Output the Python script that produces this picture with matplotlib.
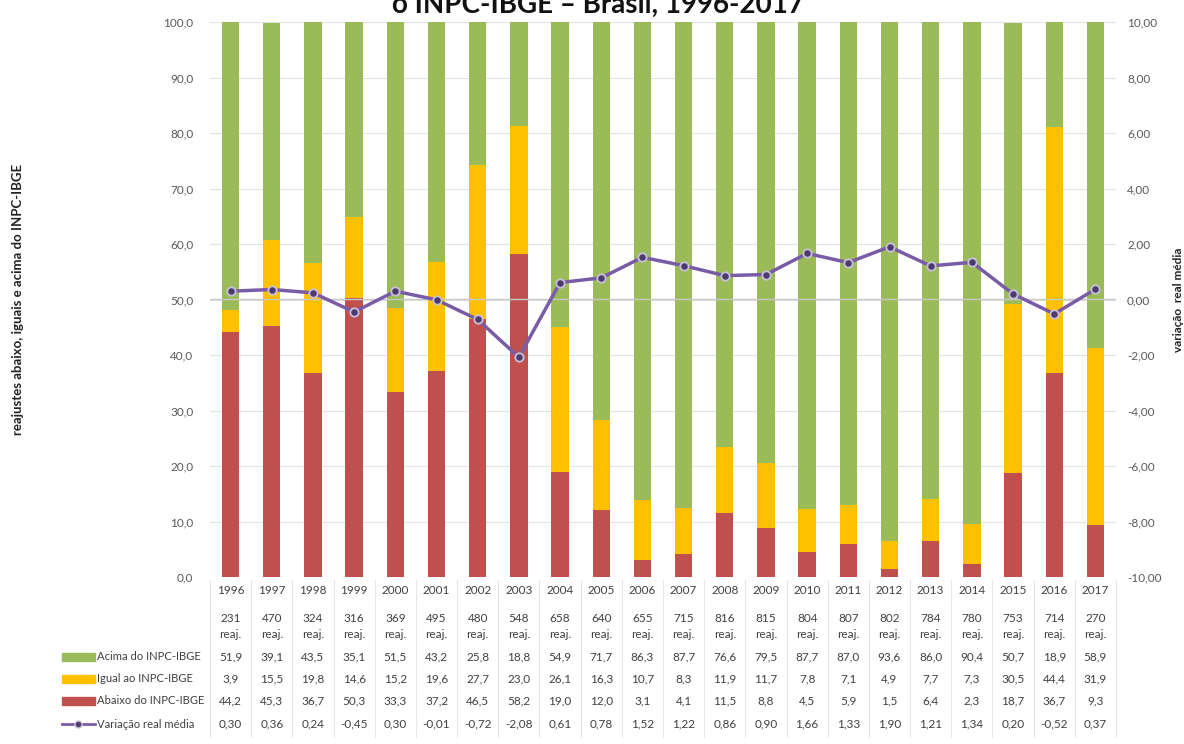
import matplotlib.pyplot as plt
from matplotlib.patches import Rectangle
from matplotlib.lines import Line2D
from matplotlib.transforms import blended_transform_factory

plt.rcParams['font.family'] = ['Lato', 'DejaVu Sans']

# dados da tabela
anos = [1996, 1997, 1998, 1999, 2000, 2001, 2002, 2003, 2004, 2005, 2006,
        2007, 2008, 2009, 2010, 2011, 2012, 2013, 2014, 2015, 2016, 2017]
reajustes = [231, 470, 324, 316, 369, 495, 480, 548, 658, 640, 655,
             715, 816, 815, 804, 807, 802, 784, 780, 753, 714, 270]
acima = [51.9, 39.1, 43.5, 35.1, 51.5, 43.2, 25.8, 18.8, 54.9, 71.7, 86.3,
         87.7, 76.6, 79.5, 87.7, 87.0, 93.6, 86.0, 90.4, 50.7, 18.9, 58.9]
igual = [3.9, 15.5, 19.8, 14.6, 15.2, 19.6, 27.7, 23.0, 26.1, 16.3, 10.7,
         8.3, 11.9, 11.7, 7.8, 7.1, 4.9, 7.7, 7.3, 30.5, 44.4, 31.9]
abaixo = [44.2, 45.3, 36.7, 50.3, 33.3, 37.2, 46.5, 58.2, 19.0, 12.0, 3.1,
          4.1, 11.5, 8.8, 4.5, 5.9, 1.5, 6.4, 2.3, 18.7, 36.7, 9.3]
variacao = [0.30, 0.36, 0.24, -0.45, 0.30, -0.01, -0.72, -2.08, 0.61, 0.78, 1.52,
            1.22, 0.86, 0.90, 1.66, 1.33, 1.90, 1.21, 1.34, 0.20, -0.52, 0.37]

verde = '#9BBB59'
amarelo = '#FFC000'
vermelho = '#C0504D'
roxo = '#7A5CA6'
cinza = '#595959'

W, H = 1184, 744


def fy(py):
    return 1 - py / H


fig = plt.figure(figsize=(W / 100, H / 100), dpi=100)
ax = fig.add_axes([210 / W, fy(577), (1116 - 210) / W, (577 - 22) / H])

x = list(range(len(anos)))
base2 = [a + b for a, b in zip(abaixo, igual)]
ax.bar(x, abaixo, width=0.42, color=vermelho, zorder=2)
ax.bar(x, igual, width=0.42, bottom=abaixo, color=amarelo, zorder=2)
ax.bar(x, acima, width=0.42, bottom=base2, color=verde, zorder=2)

ax.set_xlim(-0.5, len(anos) - 0.5)
ax.set_ylim(0, 100)
ax.set_yticks(range(0, 101, 10))
ax.set_yticklabels([f'{v:.1f}'.replace('.', ',') for v in range(0, 101, 10)],
                   fontsize=8.5, color=cinza)
ax.set_xticks([])
ax.tick_params(axis='y', length=0, pad=12)
ax.grid(axis='y', color='#E3E3E3', lw=0.8, zorder=0)
for s in ax.spines.values():
    s.set_visible(False)

ax2 = ax.twinx()
ax2.set_ylim(-10, 10)
ax2.set_yticks(range(-10, 11, 2))
ax2.set_yticklabels([f'{v:.2f}'.replace('.', ',') for v in range(-10, 11, 2)],
                    fontsize=8.5, color=cinza)
ax2.tick_params(axis='y', length=0, pad=8)
for s in ax2.spines.values():
    s.set_visible(False)
ax2.axhline(0, color='#C8C8C8', lw=1.0, zorder=1)
ax2.plot(x, variacao, color=roxo, lw=2.5, marker='o', markersize=6,
         markerfacecolor='#4B3B6E', markeredgecolor='#C9C0DA', markeredgewidth=1.3,
         zorder=5)

ax.set_ylabel('reajustes abaixo, iguais e acima do INPC-IBGE', fontsize=9.5,
              fontweight='bold', color='#222222')
ax.yaxis.set_label_coords((24 - 210) / (1116 - 210), 0.5)
ax2.set_ylabel('variação  real média', fontsize=8.5, fontweight='bold',
               color='#222222', rotation=90)
ax2.yaxis.set_label_coords((1173 - 210) / (1116 - 210), 0.5)

# titulo cortado no topo da imagem
fig.text(598 / W, fy(13), 'o INPC-IBGE – Brasil, 1996-2017', fontsize=20,
         fontweight='bold', ha='center', va='baseline', color='#111111')

# tabela de dados abaixo do grafico
tr = blended_transform_factory(ax.transData, fig.transFigure)
txt = dict(fontsize=8.5, ha='center', va='center', color='#404040', transform=tr)
linhas = [('Acima do INPC-IBGE', acima, 657),
          ('Igual ao INPC-IBGE', igual, 679),
          ('Abaixo do INPC-IBGE', abaixo, 701)]
for i in x:
    ax.text(i, fy(591), str(anos[i]), **txt)
    ax.text(i, fy(619), str(reajustes[i]), **txt)
    ax.text(i, fy(634), 'reaj.', **txt)
    for nome, vals, py in linhas:
        ax.text(i, fy(py), f'{vals[i]:.1f}'.replace('.', ','), **txt)
    ax.text(i, fy(724), f'{variacao[i]:.2f}'.replace('.', ','), **txt)

for i in range(len(anos) + 1):
    fig.add_artist(Line2D([i - 0.5, i - 0.5], [fy(580), fy(737)], transform=tr,
                          color='#E6E6E6', lw=0.8))

cores = [verde, amarelo, vermelho]
for (nome, vals, py), cor in zip(linhas, cores):
    fig.add_artist(Rectangle((62 / W, fy(py + 4)), 33 / W, 8 / H,
                             transform=fig.transFigure, color=cor))
    fig.text(97 / W, fy(py), nome, fontsize=8.1, va='center', color='#404040')
fig.add_artist(Line2D([62 / W, 95 / W], [fy(724), fy(724)], transform=fig.transFigure,
                      color=roxo, lw=2))
fig.add_artist(Line2D([78 / W], [fy(724)], transform=fig.transFigure,
                      color=roxo, marker='o', markersize=5,
                      markerfacecolor='#4B3B6E', markeredgecolor='#C9C0DA'))
fig.text(97 / W, fy(724), 'Variação real média', fontsize=8.1, va='center',
         color='#404040')

fig.savefig('out.png', dpi=100)
